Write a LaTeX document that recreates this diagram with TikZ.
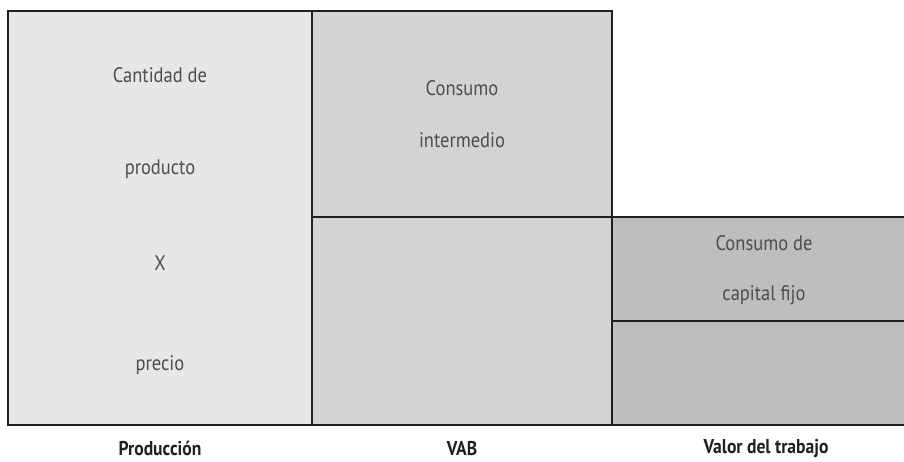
\documentclass[tikz,border=0pt]{standalone}
\usepackage{fontspec}
\setmainfont{PT Sans}
\newfontfamily\narrowfont[FakeStretch=0.88]{PT Sans}
\definecolor{cA}{HTML}{E6E7E8}
\definecolor{cB}{HTML}{D1D3D4}
\definecolor{cC}{HTML}{BCBEC0}
\definecolor{edge}{HTML}{231F20}
\definecolor{txt}{HTML}{4D4D4F}
\tikzset{
  box/.style={draw=edge, line width=1.3pt},
  lbl/.style={text=txt, font=\narrowfont\fontsize{21}{24}\selectfont, inner sep=0pt},
  caption/.style={text=edge, font=\narrowfont\bfseries\fontsize{20}{23}\selectfont, inner sep=0pt}
}
\begin{document}
\begin{tikzpicture}[x=1pt,y=-1pt]
\useasboundingbox (0,0) rectangle (904,462);
% columns
\fill[cA] (8,11) rectangle (312,425);
\fill[cB] (312,11) rectangle (612,425);
\fill[cC] (612,217) rectangle (904,425);
\draw[box] (8,11) rectangle (312,425);
\draw[box] (312,11) rectangle (612,425);
\draw[box] (312,217) -- (612,217);
\draw[box] (904,217) -- (612,217) -- (612,425) -- (904,425);
\draw[box] (612,321) -- (904,321);
% texts
\node[lbl] (t1) at (160,75) {Cantidad de};
\node[lbl] (t2) at (160,169) {producto};
\node[lbl] (t3) at (160,263) {X};
\node[lbl] (t4) at (160,365) {precio};
\node[lbl] (t5) at (462,88) {Consumo};
\node[lbl] (t6) at (462,140) {intermedio};
\node[lbl] (t7) at (764,243) {Consumo de};
\node[lbl] (t8) at (764,295) {capital fijo};
\node[caption] (c1) at (160,448) {Producción};
\node[caption] (c2) at (462,448) {VAB};
\node[caption] (c3) at (766,448) {Valor del trabajo};
\end{tikzpicture}
\end{document}
